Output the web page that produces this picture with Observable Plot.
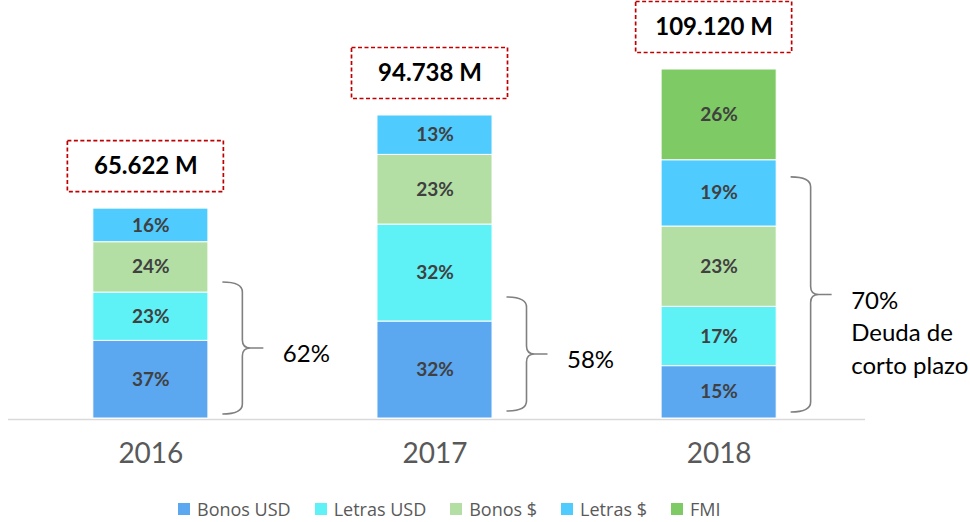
<!DOCTYPE html>
<html><head><meta charset="utf-8">
<script src="https://cdn.jsdelivr.net/npm/d3@7"></script>
<script src="https://cdn.jsdelivr.net/npm/@observablehq/plot@0.6"></script>
<style>
body{margin:0;background:#fff;}
#chart{position:relative;width:970px;height:522px;overflow:hidden;}
#legend{position:absolute;left:178px;top:497px;display:flex;align-items:center;font-family:"Open Sans",sans-serif;font-size:18px;color:#595959;white-space:nowrap;}
.item{display:flex;align-items:center;margin-right:24px;}
.sw{width:12px;height:12px;margin-right:7px;}
</style></head><body><div id="chart"></div>
<script>
// ---- data ----
const years = ["2016", "2017", "2018"];
const totals = [65622, 94738, 109120];              // millones
const series = ["Bonos USD", "Letras USD", "Bonos $", "Letras $", "FMI"];
const colors = ["#5BA7F0", "#5EF1F6", "#B3DFA4", "#50CBFE", "#7ECA64"];
const pctBonosUSD = [37, 32, 15];
const pctLetrasUSD = [23, 32, 17];
const pctBonosPesos = [24, 23, 23];
const pctLetrasPesos = [16, 13, 19];
const pctFMI = [0, 0, 26];
const braceLabels = ["62%", "58%", "70%\nDeuda de\ncorto plazo"];
const braceLow = [1250, 2190, 1880];       // extent of bracket, millones
const braceHigh = [42540, 37850, 75380];

// ---- build table ----
const pctBySeries = [pctBonosUSD, pctLetrasUSD, pctBonosPesos, pctLetrasPesos, pctFMI];
const rows = [];
series.forEach((s, si) => years.forEach((y, yi) => {
  const p = pctBySeries[si][yi];
  if (p > 0) rows.push({year: y, series: s, pct: p, value: totals[yi] * p / 100});
}));
const loc = d3.formatLocale({decimal: ",", thousands: ".", grouping: [3], currency: ["$", ""]});
const fmt = loc.format(",d");
const totalRows = years.map((y, i) => ({year: y, total: totals[i], label: fmt(totals[i]) + " M"}));
const braceRows = years.map((y, i) => ({year: y, lo: braceLow[i], hi: braceHigh[i], mid: (braceLow[i] + braceHigh[i]) / 2, label: braceLabels[i]}));

const chart = Plot.plot({
  width: 970,
  height: 490,
  marginTop: 0,
  marginBottom: 72,
  marginLeft: 8,
  marginRight: 105,
  style: {background: "transparent", overflow: "visible"},
  x: {domain: years, range: [36, 833], paddingInner: 0.595, paddingOuter: 0.2, round: false, axis: null},
  y: {domain: [0, 109120], range: [418, 69], axis: null},
  color: {domain: series, range: colors},
  marks: [
    Plot.ruleY([0], {stroke: "#d9d9d9", strokeWidth: 1.3, dy: 1}),
    Plot.barY(rows, {x: "year", y: "value", fill: "series", z: "series", stroke: "white", strokeWidth: 1}),
    Plot.text(rows, Plot.stackY({x: "year", y: "value", z: "series", text: d => d.pct + "%",
      fill: "#404040", fontWeight: "bold", fontSize: 19, fontFamily: "Lato"})),
    Plot.text(totalRows, {x: "year", y: "total", text: "label", dy: -42, dx: -5,
      fill: "#000", fontWeight: "bold", fontSize: 24, fontFamily: "Lato"}),
    Plot.text(braceRows, {x: "year", y: "mid", text: "label", dx: 132, dy: -9, textAnchor: "start",
      lineAnchor: "top", lineHeight: 1.35, fill: "#000", fontSize: 24, fontFamily: "Lato"}),
    Plot.text(years, {x: d => d, frameAnchor: "bottom", dy: 44, fill: "#595959", fontSize: 28, fontFamily: "Lato"})
  ]
});
document.getElementById("chart").appendChild(chart);

// ---- brackets and dashed boxes positioned through Plot's scales ----
const xs = chart.scale("x"), ys = chart.scale("y");
const xb = d3.scaleBand().domain(xs.domain).range(xs.range)
  .paddingInner(xs.paddingInner ?? 0.595).paddingOuter(xs.paddingOuter ?? 0.2).align(xs.align ?? 0.5);
const yl = d3.scaleLinear().domain(ys.domain).range(ys.range);
const X = v => (xs.apply ? xs.apply(v) : xb(v));
const BW = xs.bandwidth ?? xb.bandwidth();
const Y = v => (ys.apply ? ys.apply(v) : yl(v));
const svg = d3.select(chart);
const g = svg.append("g");
braceRows.forEach(d => {
  const cx = X(d.year) + BW / 2;
  const t = cx + 72, s = cx + 92, p = cx + 113;
  const yT = Y(d.hi), yB = Y(d.lo), yM = (yT + yB) / 2;
  g.append("path")
    .attr("d", `M${t},${yT} Q${s},${yT} ${s},${yT + 10} L${s},${yM - 8} Q${s},${yM} ${s + 8},${yM} L${p},${yM} M${s + 8},${yM} Q${s},${yM} ${s},${yM + 8} L${s},${yB - 10} Q${s},${yB} ${t},${yB}`)
    .attr("fill", "none").attr("stroke", "#808080").attr("stroke-width", 1.6);
});
totalRows.forEach(d => {
  const cx = X(d.year) + BW / 2 - 5;
  const cy = Y(d.total) - 42;
  g.append("rect").attr("x", cx - 78).attr("y", cy - 25.5).attr("width", 156).attr("height", 51)
    .attr("fill", "none").attr("stroke", "#c00000").attr("stroke-width", 1.7).attr("stroke-dasharray", "4 2.5");
});

// ---- legend ----
const legend = d3.select("#chart").append("div").attr("id", "legend");
series.forEach((s, i) => {
  const it = legend.append("div").attr("class", "item");
  it.append("div").attr("class", "sw").style("background", colors[i]);
  it.append("span").text(s);
});
</script>
</body></html>
